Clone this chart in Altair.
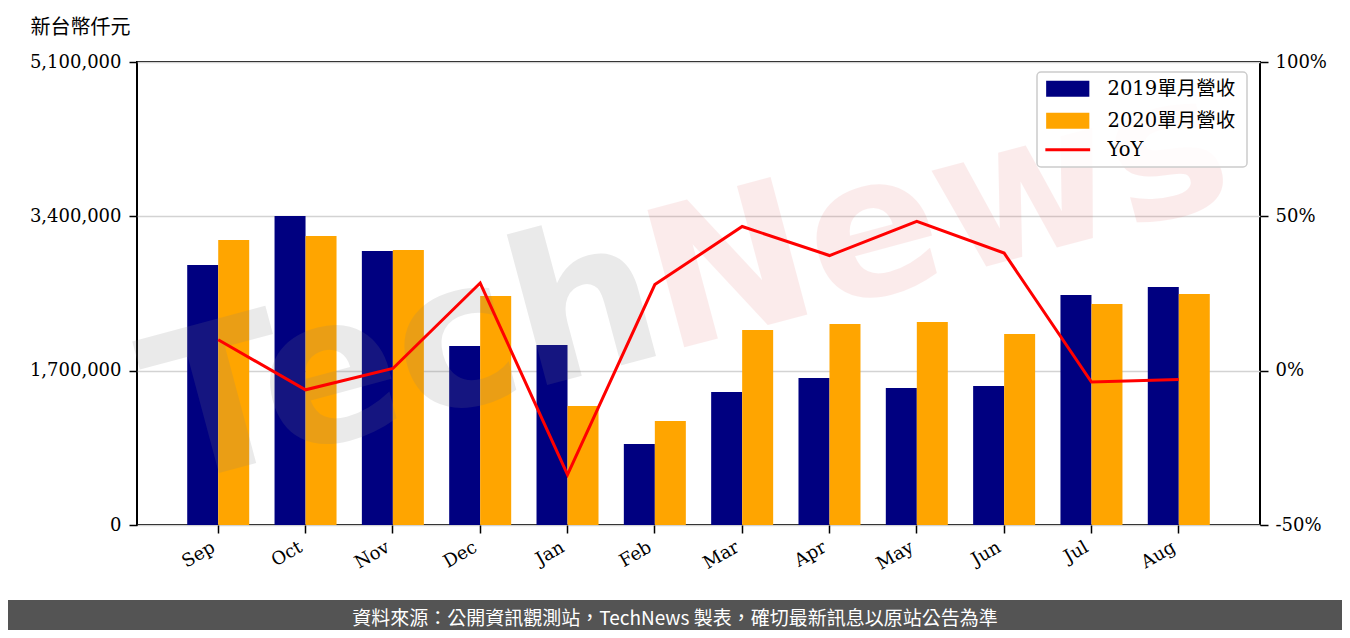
import altair as alt
import pandas as pd

months = ["Sep", "Oct", "Nov", "Dec", "Jan", "Feb", "Mar", "Apr", "May", "Jun", "Jul", "Aug"]
series_names = ["2019單月營收", "2020單月營收"]
rev_2019 = [2864000, 3404000, 3018000, 1972000, 1983000, 892000,
            1465000, 1619000, 1509000, 1531000, 2533000, 2622000]
rev_2020 = [3139000, 3183000, 3029000, 2522000, 1311000, 1146000,
            2148000, 2214000, 2236000, 2104000, 2434000, 2544000]
yoy = [0.100, -0.062, 0.007, 0.284, -0.337, 0.279,
       0.467, 0.373, 0.484, 0.381, -0.037, -0.029]
left_ticks = [0, 1700000, 3400000, 5100000]
right_ticks = [-0.5, 0.0, 0.5, 1.0]
yoy_label = "YoY"
y_title = "新台幣仟元"
footer = "資料來源：公開資訊觀測站，TechNews 製表，確切最新訊息以原站公告為準"

bar_df = pd.DataFrame({
    "month": months * 2,
    "series": [series_names[0]] * 12 + [series_names[1]] * 12,
    "value": rev_2019 + rev_2020,
})
line_df = pd.DataFrame({"month": months, "yoy": yoy, "label": [yoy_label] * 12})
one = pd.DataFrame({"k": [0]})

SERIF = "'DejaVu Serif', 'Noto Sans CJK TC'"
CJK = "'Noto Sans CJK TC', 'Noto Sans'"

x_axis = alt.Axis(title=None, labelAngle=330, labelAlign="right", labelBaseline="top",
                  labelPadding=5, labelOffset=-9, grid=False, ticks=True, labels=True)

bars = alt.Chart(bar_df).mark_bar().encode(
    x=alt.X("month:N", sort=months,
            scale=alt.Scale(paddingInner=0.29, paddingOuter=0.575),
            axis=x_axis),
    xOffset=alt.XOffset("series:N", sort=series_names,
                        scale=alt.Scale(paddingInner=0, paddingOuter=0)),
    y=alt.Y("value:Q", scale=alt.Scale(domain=[0, 5100000], nice=False),
            axis=alt.Axis(values=left_ticks, format=",d", title=y_title,
                          titleAngle=0, titleX=-107, titleY=-35,
                          titleAlign="left", titleBaseline="middle",
                          grid=True, labelPadding=8)),
    color=alt.Color("series:N", sort=series_names,
                    scale=alt.Scale(domain=series_names, range=["#000080", "#FFA500"]),
                    legend=alt.Legend(title=None, orient="none", legendX=921, legendY=17,
                                      direction="vertical",
                                      symbolType="M-2.7,-1H2.7V1H-2.7Z", symbolSize=256,
                                      symbolStrokeWidth=0, symbolOpacity=1,
                                      labelOffset=30, rowPadding=11,
                                      labelFont=SERIF, labelFontSize=19.5, labelColor="black",
                                      padding=0, zindex=1)),
)

wm_tech = alt.Chart(one).mark_text(
    text="Tech", angle=345, fontSize=205, fontWeight="bold", font="DejaVu Sans",
    align="left", baseline="alphabetic", color="#808080", opacity=0.16,
).encode(x=alt.value(33), y=alt.value(424))

wm_news = alt.Chart(one).mark_text(
    text="News", angle=345, fontSize=195, fontWeight="bold", font="DejaVu Sans",
    align="left", baseline="alphabetic", color="#e04848", opacity=0.10,
).encode(x=alt.value(530), y=alt.value(290))

line = alt.Chart(line_df).mark_line(strokeWidth=3).encode(
    x=alt.X("month:N", sort=months, axis=x_axis),
    y=alt.Y("yoy:Q", scale=alt.Scale(domain=[-0.5, 1.0], nice=False),
            axis=alt.Axis(orient="right", values=right_ticks, format=".0%",
                          labelExpr="replace(datum.label, '\u2212', '-')",
                          title=None, grid=False, labelPadding=7)),
    stroke=alt.Stroke("label:N",
                      scale=alt.Scale(domain=[yoy_label], range=["#FF0000"]),
                      legend=alt.Legend(title=None, orient="none", legendX=921, legendY=78,
                                        direction="vertical",
                                        symbolType="M-2.8,0H2.8", symbolSize=256,
                                        symbolStrokeWidth=3,
                                        labelOffset=30,
                                        labelFont=SERIF, labelFontSize=19.5, labelColor="black",
                                        padding=0, zindex=1)),
)

frame = alt.Chart(one).mark_rect(
    fill="white", fillOpacity=0.85, stroke="#cccccc", strokeWidth=1.5, cornerRadius=4,
).encode(x=alt.value(900), x2=alt.value(1110), y=alt.value(10), y2=alt.value(105))

footer_rect = alt.Chart(one).mark_rect(fill="#545454").encode(
    x=alt.value(-129), x2=alt.value(1205), y=alt.value(538), y2=alt.value(570))

footer_text = alt.Chart(one).mark_text(
    text=footer, font=CJK, fontSize=19, color="white", align="center", baseline="middle",
).encode(x=alt.value(538), y=alt.value(557))

chart = alt.layer(
    bars, wm_tech, wm_news, line, frame, footer_rect, footer_text
).resolve_scale(
    y="independent"
).properties(
    width=1123, height=463,
    autosize=alt.AutoSizeParams(type="none"),
    padding={"left": 129, "top": 54, "right": 82, "bottom": 105},
    background="white",
).configure_view(
    stroke="black", strokeWidth=2
).configure_axis(
    labelFont=SERIF, labelFontSize=18, labelColor="black",
    tickColor="black", tickSize=8, tickWidth=1.5, domain=False,
    gridColor="#d3d3d3", gridWidth=1.5,
    titleFont=CJK, titleFontSize=20, titleFontWeight="normal", titleColor="black",
)

chart.save("out.html", embed_options={"renderer": "svg", "actions": False})
